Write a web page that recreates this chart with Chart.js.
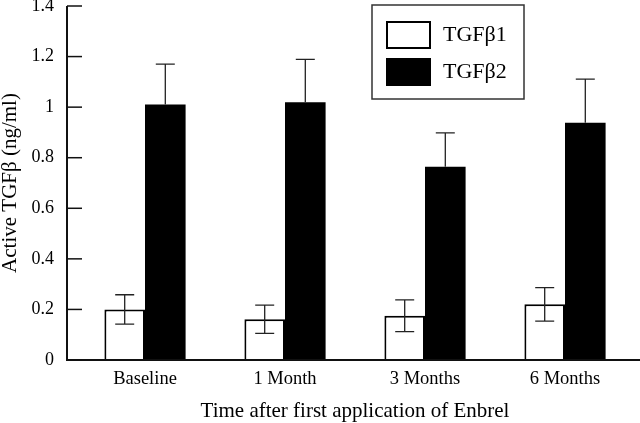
<!DOCTYPE html>
<html>
<head>
<meta charset="utf-8">
<script src="https://cdn.jsdelivr.net/npm/chart.js@4/dist/chart.umd.min.js"></script>
<style>
  html, body { margin: 0; padding: 0; background: #fff; }
  #wrap { width: 640px; height: 423px; position: relative; }
</style>
</head>
<body>
<div id="wrap"><canvas id="chart"></canvas></div>
<script>
// data
const categories = ['Baseline', '1 Month', '3 Months', '6 Months'];
const tgfb1 = [0.200, 0.161, 0.175, 0.220];
const tgfb1Err = [0.058, 0.056, 0.063, 0.066];
const tgfb2 = [1.010, 1.019, 0.764, 0.938];
const tgfb2Err = [0.160, 0.170, 0.134, 0.173];

const serif = '"Liberation Serif", "Times New Roman", serif';

// axis lines, inward ticks, error bars and boxed legend
const decorations = {
  id: 'decorations',
  afterDatasetsDraw(chart) {
    const { ctx, chartArea, scales } = chart;
    const y = scales.y;
    const axisX = chartArea.left - 8;
    ctx.save();

    // error bars (lower half hidden inside the black bars)
    ctx.strokeStyle = '#222';
    ctx.lineWidth = 1.3;
    chart.data.datasets.forEach((ds, i) => {
      const meta = chart.getDatasetMeta(i);
      const showLower = ds.backgroundColor !== '#000000';
      meta.data.forEach((bar, j) => {
        const v = ds.data[j], e = ds.errors[j];
        const top = y.getPixelForValue(v + e);
        const bot = showLower ? y.getPixelForValue(v - e) : bar.y;
        ctx.beginPath();
        ctx.moveTo(bar.x, top); ctx.lineTo(bar.x, bot);
        ctx.moveTo(bar.x - 9.5, top); ctx.lineTo(bar.x + 9.5, top);
        if (showLower) { ctx.moveTo(bar.x - 9.5, bot); ctx.lineTo(bar.x + 9.5, bot); }
        ctx.stroke();
      });
    });

    // axes
    ctx.strokeStyle = '#111';
    ctx.lineWidth = 2;
    ctx.beginPath();
    ctx.moveTo(axisX, chartArea.top);
    ctx.lineTo(axisX, chartArea.bottom);
    ctx.lineTo(chart.width, chartArea.bottom);
    ctx.stroke();
    ctx.lineWidth = 1.5;
    y.ticks.forEach(t => {
      const py = y.getPixelForValue(t.value);
      ctx.beginPath();
      ctx.moveTo(axisX, py);
      ctx.lineTo(axisX + 15, py);
      ctx.stroke();
    });

    // legend
    const bx = chartArea.right - 263, by = chartArea.top - 1;
    ctx.strokeStyle = '#333';
    ctx.lineWidth = 1.5;
    ctx.strokeRect(bx, by, 152, 94);
    ctx.font = '22px ' + serif;
    ctx.textBaseline = 'middle';
    chart.data.datasets.forEach((ds, i) => {
      const sy = by + 17 + i * 37;
      ctx.fillStyle = ds.backgroundColor;
      ctx.fillRect(bx + 15, sy, 43, 26);
      ctx.strokeStyle = '#000';
      ctx.lineWidth = 2;
      ctx.strokeRect(bx + 15, sy, 43, 26);
      ctx.fillStyle = '#000';
      ctx.fillText(ds.label, bx + 71, sy + 13);
    });
    ctx.restore();
  }
};

new Chart(document.getElementById('chart'), {
  type: 'bar',
  data: {
    labels: categories,
    datasets: [
      {
        label: 'TGFβ1',
        data: tgfb1,
        errors: tgfb1Err,
        backgroundColor: '#ffffff',
        borderColor: '#000000',
        borderWidth: 2,
        borderSkipped: 'bottom'
      },
      {
        label: 'TGFβ2',
        data: tgfb2,
        errors: tgfb2Err,
        backgroundColor: '#000000',
        borderWidth: 0
      }
    ]
  },
  options: {
    responsive: true,
    maintainAspectRatio: false,
    animation: false,
    datasets: { bar: { barPercentage: 1, categoryPercentage: 0.58 } },
    layout: { padding: { top: 6, right: 5, left: 0, bottom: 0 } },
    plugins: { legend: { display: false }, tooltip: { enabled: false } },
    scales: {
      x: {
        grid: { display: false, drawTicks: false, tickLength: 0 },
        border: { display: false },
        ticks: { color: '#000', font: { family: serif, size: 18.5 }, padding: 8 },
        title: {
          display: true,
          text: 'Time after first application of Enbrel',
          color: '#000',
          font: { family: serif, size: 21, lineHeight: 1 },
          padding: { top: 0, bottom: 1.5 }
        },
        afterFit(s) { s.height = 63; s.paddingLeft = 0; s.paddingRight = 0; }
      },
      y: {
        min: 0,
        max: 1.4,
        grid: { display: false, drawTicks: false, tickLength: 0 },
        border: { display: false },
        ticks: {
          stepSize: 0.2,
          color: '#000',
          font: { family: serif, size: 18 },
          padding: 21,
          callback: v => String(Math.round(v * 10) / 10)
        },
        title: {
          display: true,
          text: 'Active TGFβ (ng/ml)',
          color: '#000',
          font: { family: serif, size: 21, lineHeight: 1 },
          padding: { top: 0, bottom: 0 }
        },
        afterFit(s) { s.width = 75; s.paddingTop = 0; s.paddingBottom = 0; }
      }
    }
  },
  plugins: [decorations]
});
</script>
</body>
</html>
